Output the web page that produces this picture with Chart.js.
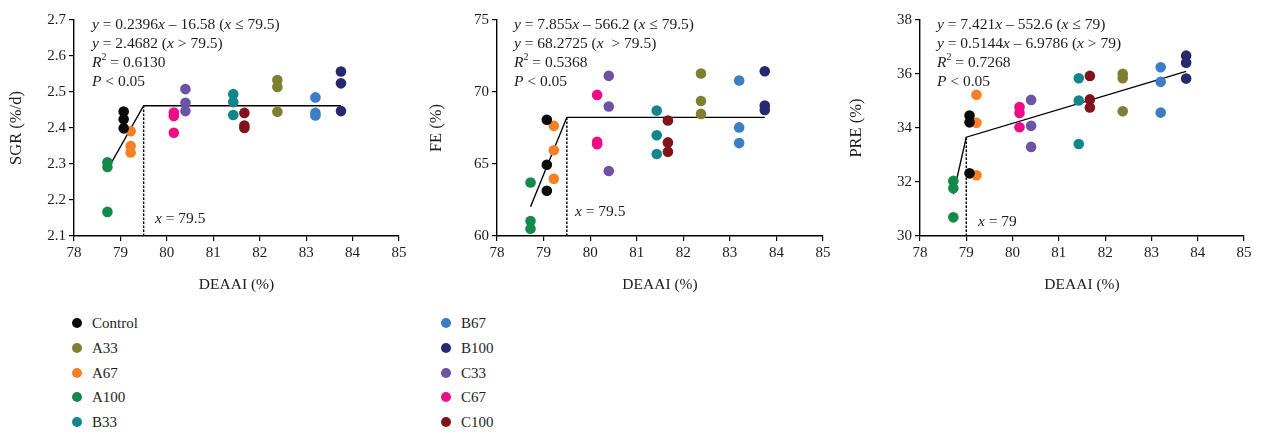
<!DOCTYPE html>
<html>
<head>
<meta charset="utf-8">
<script src="https://cdn.jsdelivr.net/npm/chart.js@4.4.1/dist/chart.umd.min.js"></script>
<style>
  html, body { margin: 0; padding: 0; background: #fff; }
  body { width: 1261px; height: 435px; position: relative; overflow: hidden; font-family: "Liberation Serif", "DejaVu Serif", serif; }
  .panel { position: absolute; top: 0; }
  .legend { position: absolute; font-size: 15px; color: #231f20; }
  .lg-item { position: absolute; white-space: nowrap; }
  .lg-dot { position: absolute; width: 10px; height: 10px; border-radius: 50%; }
</style>
</head>
<body>
<div class="panel" style="left:0px"><canvas id="c1" width="420" height="300"></canvas></div>
<div class="panel" style="left:420px"><canvas id="c2" width="420" height="300"></canvas></div>
<div class="panel" style="left:840px"><canvas id="c3" width="421" height="300"></canvas></div>
<div id="legend"></div>
<script>
// ---------- data ----------
const groups = ['Control', 'A33', 'A67', 'A100', 'B33', 'B67', 'B100', 'C33', 'C67', 'C100'];
const colors = ['#0b0b0b', '#7f7f33', '#f58025', '#138a47', '#12868a', '#3c7dc4', '#27296e', '#6c53a4', '#ec0e86', '#80141a'];
const deaai = [79.07, 82.38, 79.22, 78.72, 81.43, 83.2, 83.75, 80.4, 80.15, 81.67];

const sgr = [
  [2.446, 2.424, 2.399],
  [2.533, 2.514, 2.445],
  [2.391, 2.350, 2.332],
  [2.305, 2.292, 2.167],
  [2.494, 2.472, 2.436],
  [2.485, 2.442, 2.435],
  [2.557, 2.524, 2.447],
  [2.508, 2.470, 2.447],
  [2.443, 2.433, 2.387],
  [2.442, 2.407, 2.400]
];
const fe = [
  [68.07, 64.95, 63.14],
  [71.28, 69.38, 68.48],
  [67.65, 65.96, 63.98],
  [63.72, 61.04, 60.51],
  [68.71, 67.00, 65.69],
  [70.80, 67.54, 66.45],
  [71.44, 69.06, 68.75],
  [71.12, 68.99, 64.51],
  [69.80, 66.54, 66.38],
  [68.02, 66.50, 65.85]
];
const pre = [
  [34.46, 34.21, 32.32],
  [36.01, 35.84, 34.62],
  [35.23, 34.19, 32.25],
  [32.04, 31.77, 30.69],
  [35.84, 35.02, 33.41],
  [36.25, 35.71, 34.57],
  [36.68, 36.42, 35.83],
  [35.04, 34.08, 33.30],
  [34.78, 34.56, 34.03],
  [35.93, 35.06, 34.76]
];

// broken-line fits (x and y of the vertices), and the breakpoint marker
const sgrFitX = [78.72, 79.5, 83.75];
const sgrFitY = [2.284, 2.462, 2.462];
const sgrBreakX = [79.5, 79.5];
const sgrBreakY = [2.1, 2.462];

const feFitX = [78.72, 79.5, 83.75];
const feFitY = [62.03, 68.24, 68.24];
const feBreakX = [79.5, 79.5];
const feBreakY = [60, 68.24];

const preFitX = [78.72, 79.0, 83.75];
const preFitY = [31.55, 33.66, 36.10];
const preBreakX = [79.0, 79.0];
const preBreakY = [30, 33.66];

const xTicks = [78, 79, 80, 81, 82, 83, 84, 85];
const sgrTicks = [2.1, 2.2, 2.3, 2.4, 2.5, 2.6, 2.7];
const feTicks = [60, 65, 70, 75];
const preTicks = [30, 32, 34, 36, 38];

// equation text: runs of [text, italic, superscript]
const sgrEq = [
  [['y', 1], [' = 0.2396', 0], ['x', 1], [' – 16.58 (', 0], ['x', 1], [' ≤ 79.5)', 0]],
  [['y', 1], [' = 2.4682 (', 0], ['x', 1], [' > 79.5)', 0]],
  [['R', 1], ['2', 0, 1], [' = 0.6130', 0]],
  [['P', 1], [' < 0.05', 0]]
];
const feEq = [
  [['y', 1], [' = 7.855', 0], ['x', 1], [' – 566.2 (', 0], ['x', 1], [' ≤ 79.5)', 0]],
  [['y', 1], [' = 68.2725 (', 0], ['x', 1], ['  > 79.5)', 0]],
  [['R', 1], ['2', 0, 1], [' = 0.5368', 0]],
  [['P', 1], [' < 0.05', 0]]
];
const preEq = [
  [['y', 1], [' = 7.421', 0], ['x', 1], [' – 552.6 (', 0], ['x', 1], [' ≤ 79)', 0]],
  [['y', 1], [' = 0.5144', 0], ['x', 1], [' – 6.9786 (', 0], ['x', 1], [' > 79)', 0]],
  [['R', 1], ['2', 0, 1], [' = 0.7268', 0]],
  [['P', 1], [' < 0.05', 0]]
];
const sgrBreakLabel = [['x', 1], [' = 79.5', 0]];
const feBreakLabel = [['x', 1], [' = 79.5', 0]];
const preBreakLabel = [['x', 1], [' = 79', 0]];

// ---------- drawing ----------
const FONT = '"Liberation Serif", "DejaVu Serif", serif';
const TEXT = '#1f1b1c';

function drawRuns(ctx, runs, x, y, size) {
  let cx = x;
  for (const r of runs) {
    const italic = r[1], sup = r[2];
    const fs = sup ? Math.round(size * 0.65) : size;
    ctx.font = (italic ? 'italic ' : '') + fs + 'px ' + FONT;
    ctx.fillText(r[0], cx, sup ? y - size * 0.35 : y);
    cx += ctx.measureText(r[0]).width;
  }
}

const textPlugin = {
  id: 'eqText',
  afterDatasetsDraw(chart) {
    const o = chart.options.plugins.eqText;
    if (!o) return;
    const ctx = chart.ctx;
    const a = chart.chartArea;
    ctx.save();
    ctx.fillStyle = TEXT;
    ctx.textBaseline = 'middle';
    ctx.textAlign = 'left';
    o.lines.forEach((runs, i) => drawRuns(ctx, runs, a.left + o.dx, a.top + o.dy + i * 19, 15.5));
    drawRuns(ctx, o.bLabel, a.left + o.bx, a.top + o.by, 15.5);
    ctx.restore();
  }
};

function makeChart(id, values, fitX, fitY, brX, brY, yTicks, yTitle, eq, bLabel, geo) {
  const datasets = [];
  groups.forEach((g, i) => {
    datasets.push({
      label: g,
      data: values[i].map(v => ({ x: deaai[i], y: v })),
      backgroundColor: colors[i],
      borderColor: colors[i],
      pointRadius: 5.3,
      pointBorderWidth: 0,
      showLine: false,
      clip: false
    });
  });
  datasets.push({
    label: 'fit',
    data: fitX.map((x, i) => ({ x: x, y: fitY[i] })),
    showLine: true,
    borderColor: '#000',
    borderWidth: 1.4,
    pointRadius: 0,
    fill: false,
    clip: false
  });
  datasets.push({
    label: 'break',
    data: brX.map((x, i) => ({ x: x, y: brY[i] })),
    showLine: true,
    borderColor: '#000',
    borderWidth: 1.4,
    borderDash: [2.5, 1.5],
    pointRadius: 0,
    fill: false,
    clip: false
  });

  const tickFont = { family: FONT, size: 15 };
  return new Chart(document.getElementById(id), {
    type: 'scatter',
    data: { datasets },
    options: {
      responsive: false,
      animation: false,
      devicePixelRatio: 1,
      layout: { padding: { left: 0, top: 20, right: geo.right, bottom: 0 } },
      plugins: {
        legend: { display: false },
        tooltip: { enabled: false },
        eqText: { lines: eq, dx: geo.dx, dy: 5, bLabel: bLabel, bx: geo.bx, by: geo.by }
      },
      scales: {
        x: {
          type: 'linear',
          min: xTicks[0],
          max: xTicks[xTicks.length - 1],
          afterBuildTicks: s => { s.ticks = xTicks.map(v => ({ value: v })); },
          afterFit: s => { s.height = 64; },
          ticks: { font: tickFont, color: TEXT, padding: 3, maxRotation: 0, callback: v => String(v) },
          grid: { display: true, drawOnChartArea: false, drawTicks: true, tickLength: 5, color: '#000', lineWidth: 1.2 },
          border: { display: true, color: '#000', width: 1.4 },
          title: { display: true, text: 'DEAAI (%)', font: { family: FONT, size: 15.5 }, color: TEXT, padding: { top: 0, bottom: 6 } }
        },
        y: {
          type: 'linear',
          min: yTicks[0],
          max: yTicks[yTicks.length - 1],
          afterBuildTicks: s => { s.ticks = yTicks.map(v => ({ value: v })); },
          afterFit: s => { s.width = geo.left; },
          ticks: { font: tickFont, color: TEXT, padding: 3, callback: v => geo.dec ? Number(v).toFixed(geo.dec) : String(v) },
          grid: { display: true, drawOnChartArea: false, drawTicks: true, tickLength: 5, color: '#000', lineWidth: 1.2 },
          border: { display: true, color: '#000', width: 1.4 },
          title: { display: true, text: yTitle, font: { family: FONT, size: 16.5 }, color: TEXT, padding: { top: 7, bottom: 0 } }
        }
      }
    },
    plugins: [textPlugin]
  });
}

makeChart('c1', sgr, sgrFitX, sgrFitY, sgrBreakX, sgrBreakY, sgrTicks, 'SGR (%/d)', sgrEq, sgrBreakLabel,
  { left: 74, right: 21, dec: 1, dx: 18, bx: 81, by: 199 });
makeChart('c2', fe, feFitX, feFitY, feBreakX, feBreakY, feTicks, 'FE (%)', feEq, feBreakLabel,
  { left: 77, right: 17, dec: 0, dx: 17, bx: 78, by: 192 });
makeChart('c3', pre, preFitX, preFitY, preBreakX, preBreakY, preTicks, 'PRE (%)', preEq, preBreakLabel,
  { left: 80, right: 17, dec: 0, dx: 17, bx: 58, by: 202 });

// ---------- legend ----------
const legend = document.getElementById('legend');
groups.forEach((g, i) => {
  const col = i < 5 ? 0 : 1;
  const row = i % 5;
  const dotX = col === 0 ? 72 : 441;
  const txtX = col === 0 ? 92 : 461;
  const cy = 323 + row * 24.8;
  const dot = document.createElement('div');
  dot.className = 'lg-dot';
  dot.style.left = dotX + 'px';
  dot.style.top = (cy - 5) + 'px';
  dot.style.background = colors[i];
  legend.appendChild(dot);
  const t = document.createElement('div');
  t.className = 'legend lg-item';
  t.style.left = txtX + 'px';
  t.style.top = (cy - 9) + 'px';
  t.style.lineHeight = '18px';
  t.textContent = g;
  legend.appendChild(t);
});
</script>
</body>
</html>
